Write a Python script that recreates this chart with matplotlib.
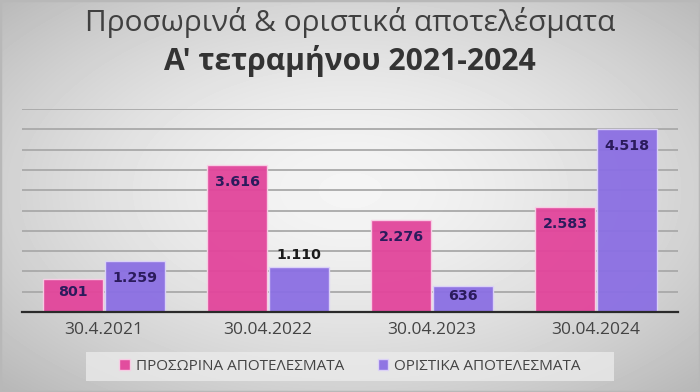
import numpy as np
import matplotlib
matplotlib.use("Agg")
import matplotlib.pyplot as plt
from matplotlib.patches import Rectangle

categories = ['30.4.2021', '30.04.2022', '30.04.2023', '30.04.2024']
prosorina = [801, 3616, 2276, 2583]
oristika = [1259, 1110, 636, 4518]
series_names = ['ΠΡΟΣΩΡΙΝΑ ΑΠΟΤΕΛΕΣΜΑΤΑ', 'ΟΡΙΣΤΙΚΑ ΑΠΟΤΕΛΕΣΜΑΤΑ']
title_line1 = 'Προσωρινά & οριστικά αποτελέσματα'
title_line2 = "Α' τετραμήνου 2021-2024"

PINK = '#E2459B'
PURPLE = '#8B6FE3'
FONT = ['Open Sans', 'DejaVu Sans']

def fmt(v):
    return f'{v:,}'.replace(',', '.')

fig = plt.figure(figsize=(7, 3.92), dpi=100)

# background radial gradient
bg = fig.add_axes([0, 0, 1, 1], zorder=-10)
yy, xx = np.mgrid[0:392, 0:700]
r = np.sqrt(((xx - 350) / 350.0) ** 2 + ((yy - 190) / 200.0) ** 2)
val = np.clip(0.96 - 0.14 * r ** 1.6, 0, 1)
bg.imshow(val, cmap='gray', vmin=0, vmax=1, aspect='auto', interpolation='bilinear')
bg.set_axis_off()
fig.patches.append(Rectangle((0, 0), 1, 1, transform=fig.transFigure, fill=False,
                             edgecolor='#b8b8b8', linewidth=2.5, zorder=-5))

ax = fig.add_axes([22 / 700, 1 - 312 / 392, 656 / 700, 203 / 392])
ax.set_facecolor('none')
x = np.arange(len(categories))
w = 0.366
off = 0.189
b1 = ax.bar(x - off, prosorina, w, color=PINK, edgecolor='#f8d0e6', linewidth=1.0,
            alpha=0.95, zorder=3, label=series_names[0])
b2 = ax.bar(x + off, oristika, w, color=PURPLE, edgecolor='#ddd4f8', linewidth=1.0,
            alpha=0.95, zorder=3, label=series_names[1])

ax.set_xlim(-0.5, len(categories) - 0.5)
ax.set_ylim(0, 5000)
ax.set_yticks(np.arange(500, 5001, 500))
ax.yaxis.grid(True, color='#a9a9a9', linewidth=1.3, zorder=1)
ax.set_axisbelow(True)
ax.tick_params(axis='y', left=False, labelleft=False)
ax.set_xticks(x)
ax.set_xticklabels(categories, fontsize=12.5, color='#444444', family=FONT)
ax.tick_params(axis='x', length=0, pad=7)
for s in ['left', 'right', 'top']:
    ax.spines[s].set_visible(False)
ax.spines['bottom'].set_color('#2a2a2a')
ax.spines['bottom'].set_linewidth(1.6)
ax.spines['bottom'].set_zorder(5)

px_per_unit = 203 / 5000.0
outside = {(1, 1)}
for si, (bars, vals) in enumerate([(b1, prosorina), (b2, oristika)]):
    for ci, (bar, v) in enumerate(zip(bars, vals)):
        hpx = v * px_per_unit
        if (ci, si) in outside:
            dy = 12 * 72 / 100
            col = '#1a1a1a'
        else:
            dy = -min(17, hpx * 0.38) * 72 / 100
            col = '#2B1B5C'
        ax.annotate(fmt(v), (bar.get_x() + bar.get_width() / 2, v), xytext=(0, dy),
                    textcoords='offset points', ha='center', va='center',
                    fontsize=10.3, fontweight='bold', color=col, family='DejaVu Sans', zorder=6)

t1 = fig.text(0.5, 1 - 22 / 392, title_line1, ha='center', va='center', fontsize=20,
              color='#404040', family=FONT)
t2 = fig.text(0.5, 1 - 61 / 392, title_line2, ha='center', va='center', fontsize=18,
              color='#333333', fontweight='bold', family=FONT)

# legend box
fig.patches.append(Rectangle((86 / 700, 1 - 381 / 392), 528 / 700, 29 / 392,
                             transform=fig.transFigure, facecolor='#ececec', alpha=0.75,
                             edgecolor='none', zorder=1))
leg = fig.legend(handles=[b1, b2], labels=series_names, loc='center',
                 bbox_to_anchor=(0.5, 1 - 366 / 392), ncol=2, frameon=False,
                 prop={'family': FONT, 'size': 11}, handlelength=0.7, handleheight=0.7,
                 handletextpad=0.4, columnspacing=2.2)
for t in leg.get_texts():
    t.set_color('#444444')

# fit text widths to reference
fig.canvas.draw()
for t, target in [(t1, 531), (t2, 372)]:
    wpx = t.get_window_extent().width
    t.set_fontsize(t.get_fontsize() * target / wpx)

fig.savefig('out.png', dpi=100)
